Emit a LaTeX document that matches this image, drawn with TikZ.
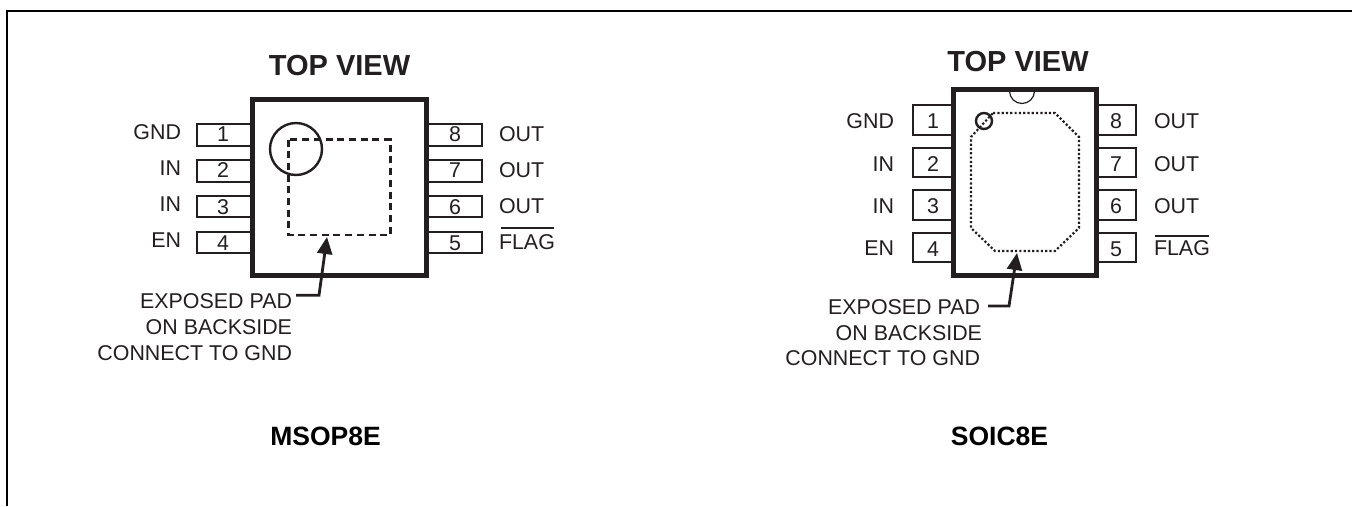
\documentclass[tikz,border=0pt]{standalone}
\usepackage{fontspec}
\setmainfont{Liberation Sans}
\usetikzlibrary{arrows.meta}
\definecolor{ink}{RGB}{35,31,32}
\tikzset{
  x=1pt,y=-1pt,
  lbl/.style={font=\fontsize{21.4}{21.4}\selectfont,text=ink,inner sep=0pt,outer sep=0pt},
  head/.style={font=\fontsize{29}{29}\selectfont\bfseries,text=ink,inner sep=0pt,anchor=base},
  pkgname/.style={font=\fontsize{26.5}{26.5}\selectfont\bfseries,text=black,inner sep=0pt,anchor=base},
  chip/.style={draw=ink,line width=5pt,fill=white},
  pin/.style={draw=ink,line width=2.8pt,fill=white},
  leader/.style={draw=ink,line width=2.8pt,-{Triangle[length=17pt,width=15pt]}},
  numb/.style={lbl,anchor=base},
  rlab/.style={lbl,anchor=base east},
  llab/.style={lbl,anchor=base west},
  noteL/.style={lbl,anchor=base east},
}
\newcommand{\pinbox}[4]{\draw[pin] (#1,#3) rectangle (#2,#4);}
\begin{document}
\begin{tikzpicture}
\useasboundingbox (0,0) rectangle (1352,506);
\fill[white] (0,0) rectangle (1352,506);
\draw[black,line width=2.4pt] (7,506) -- (7,11) -- (1352,11);
% MSOP8E
\node[head] (t1) at (339.5,75.5) {TOP VIEW};
\foreach \a/\b in {124/146,160/182,196/217,232/253}{\pinbox{197}{255}{\a}{\b}}
\foreach \a/\b in {124/146,160/182,196/217,232/253}{\pinbox{425}{482}{\a}{\b}}
\draw[chip] (252.4,99.4) rectangle (426.6,275.6);
\draw[ink,line width=2.2pt,dash pattern=on 7pt off 4.7pt] (288.5,139.5) rectangle (390.5,235);
\node[circle,draw=ink,line width=2.4pt,minimum size=52pt,inner sep=0pt] (c1) at (296,149) {};
\foreach \n/\x/\y in {1/223/141,2/223/177,3/223/214,4/223/250,8/455/141,7/455/177,6/455/214,5/455/250}{\node[numb] (pn\n) at (\x,\y) {\n};}
\node[rlab] (l1) at (181,139) {GND};
\node[rlab] (l2) at (181,175) {IN};
\node[rlab] (l3) at (181,211) {IN};
\node[rlab] (l4) at (181,247) {EN};
\node[llab] (r8) at (499,141) {OUT};
\node[llab] (r7) at (499,177) {OUT};
\node[llab] (r6) at (499,213) {OUT};
\node[llab] (r5) at (499,249) {FLAG};
\draw[ink,line width=1.6pt] (r5.base west)+(2,-21) -- +(55,-21);
\node[noteL] (e1) at (292,308) {EXPOSED PAD};
\node[noteL] (e2) at (292,334) {ON BACKSIDE};
\node[noteL] (e3) at (292,360) {CONNECT TO GND};
\coordinate (a1) at (327,237);
\coordinate (b1) at (319,295.3);
\draw[leader] (296,295.3) -- (b1) -- (a1);
\node[pkgname] (n1) at (325.5,445.5) {MSOP8E};
% SOIC8E
\node[head] (t2) at (1018,71) {TOP VIEW};
\foreach \a/\b in {105/135,148/177,190/220,233/262}{\pinbox{913}{955}{\a}{\b}}
\foreach \a/\b in {105/135,148/177,190/220,233/262}{\pinbox{1095}{1136}{\a}{\b}}
\draw[chip] (953.4,89.4) rectangle (1096.6,275.6);
\draw[ink,line width=1.2pt] (1009.5,91) arc[start angle=180,end angle=0,radius=12.5];
\draw[ink,line width=2.2pt,dash pattern=on 2.2pt off 2.1pt] (993,113) -- (1055,113) -- (1079,137) -- (1079,228) -- (1055,251) -- (995,251) -- (971,228) -- (971,137) -- cycle;
\node[circle,draw=ink,line width=2.4pt,minimum size=16pt,inner sep=0pt] (c2) at (984,121) {};
\foreach \n/\x/\y in {1/933/128,2/933/171,3/933/213,4/933/256,8/1116/128,7/1116/171,6/1116/213,5/1116/256}{\node[numb] (qn\n) at (\x,\y) {\n};}
\node[rlab] (m1) at (894,128) {GND};
\node[rlab] (m2) at (894,171) {IN};
\node[rlab] (m3) at (894,213) {IN};
\node[rlab] (m4) at (894,255) {EN};
\node[llab] (s8) at (1154,128) {OUT};
\node[llab] (s7) at (1154,171) {OUT};
\node[llab] (s6) at (1154,213) {OUT};
\node[llab] (s5) at (1154,255) {FLAG};
\draw[ink,line width=1.6pt] (s5.base west)+(1,-19) -- +(55,-19);
\node[noteL] (f1) at (980,314) {EXPOSED PAD};
\node[noteL] (f2) at (982,340) {ON BACKSIDE};
\node[noteL] (f3) at (980,365) {CONNECT TO GND};
\coordinate (a2) at (1017,253);
\coordinate (b2) at (1009,306);
\draw[leader] (988,306) -- (b2) -- (a2);
\node[pkgname] (n2) at (999.5,445.5) {SOIC8E};
\end{tikzpicture}
\end{document}
